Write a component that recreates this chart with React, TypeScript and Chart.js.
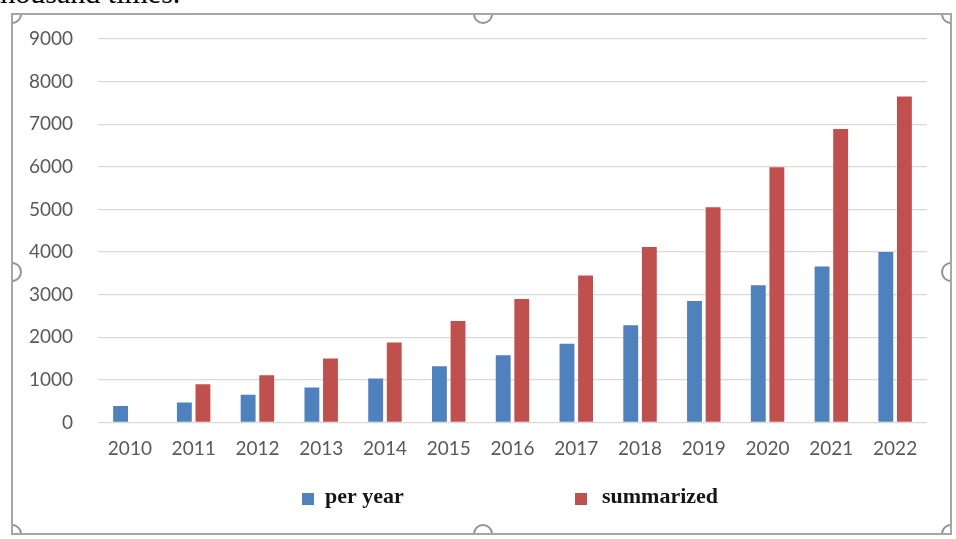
import React, { useEffect, useRef } from 'react';
import { Chart, registerables } from 'chart.js';

Chart.register(...registerables);

const years = ['2010', '2011', '2012', '2013', '2014', '2015', '2016', '2017', '2018', '2019', '2020', '2021', '2022'];
const perYear = [390, 470, 650, 820, 1030, 1320, 1580, 1850, 2280, 2850, 3220, 3660, 4000];
const summarized = [null, 900, 1110, 1500, 1880, 2380, 2900, 3450, 4120, 5050, 5990, 6890, 7650];
const seriesNames = ['per year', 'summarized'];
const seriesColors = ['#4F81BD', '#C0504D'];
const yMax = 9000;
const yStep = 1000;
const captionText = 'thousand times.';

const LEGEND_BOX_X = [302, 575];
const LEGEND_TEXT_X = [325, 602];

const legendPlugin = {
  id: 'sketchLegend',
  afterDraw(chart: any) {
    const ctx = chart.ctx;
    ctx.save();
    chart.data.datasets.forEach((ds: any, i: number) => {
      ctx.fillStyle = ds.backgroundColor;
      ctx.fillRect(LEGEND_BOX_X[i], 493, 12, 12);
      ctx.fillStyle = '#151515';
      ctx.font = 'bold 22px "Liberation Serif", "Times New Roman", serif';
      ctx.textBaseline = 'alphabetic';
      ctx.textAlign = 'left';
      ctx.fillText(ds.label, LEGEND_TEXT_X[i], 503);
    });
    ctx.restore();
  },
};

const handleCenters: [number, number][] = [
  [-1, -1], [470, -1], [938, -1],
  [-1, 257], [938, 257],
  [-1, 519], [470, 519], [938, 519],
];

export default function App() {
  const ref = useRef<HTMLCanvasElement | null>(null);

  useEffect(() => {
    document.body.style.margin = '0';
    const canvas = ref.current;
    if (!canvas) return;
    const tickFont = { family: 'Lato, "Open Sans", sans-serif', size: 19 };
    const chart = new Chart(canvas, {
      type: 'bar',
      data: {
        labels: years,
        datasets: [
          { label: seriesNames[0], data: perYear, backgroundColor: seriesColors[0], categoryPercentage: 0.583, barPercentage: 0.8 },
          { label: seriesNames[1], data: summarized as any, backgroundColor: seriesColors[1], categoryPercentage: 0.583, barPercentage: 0.8 },
        ],
      },
      options: {
        responsive: false,
        animation: false,
        devicePixelRatio: 1,
        layout: { padding: { top: 39, right: 29, left: 0, bottom: 0 } },
        plugins: {
          legend: { display: false },
          tooltip: { enabled: false },
          title: { display: false },
        },
        scales: {
          x: {
            grid: { display: false, drawTicks: false },
            border: { display: false },
            ticks: { font: tickFont, color: '#595959', padding: 15, autoSkip: false, maxRotation: 0 },
            afterFit: (s: any) => { s.height = 116.5; },
          },
          y: {
            min: 0,
            max: yMax,
            grid: { color: '#D9D9D9', lineWidth: 1.3, drawTicks: false },
            border: { display: false },
            ticks: { stepSize: yStep, font: tickFont, color: '#595959', padding: 25, callback: (v: any) => String(v) },
            afterFit: (s: any) => { s.width = 98; },
          },
        },
      },
      plugins: [legendPlugin],
    });
    return () => chart.destroy();
  }, []);

  return (
    <div style={{ position: 'fixed', left: 0, top: 0, width: 956, height: 539, background: '#fff', overflow: 'hidden' }}>
      <div
        style={{
          position: 'absolute', left: -8, top: -21.6, font: '30px "Liberation Serif", "Times New Roman", serif',
          lineHeight: '30px', color: '#000', whiteSpace: 'nowrap',
        }}
      >
        {captionText}
      </div>
      <canvas ref={ref} width={956} height={539} style={{ position: 'absolute', left: 0, top: 0, width: 956, height: 539 }} />
      <div
        style={{
          position: 'absolute', left: 11, top: 13, width: 941, height: 522, boxSizing: 'border-box',
          border: '2px solid #A6A6A6', overflow: 'hidden', pointerEvents: 'none',
        }}
      >
        {handleCenters.map(([cx, cy], i) => (
          <div
            key={i}
            style={{
              position: 'absolute', left: cx - 10, top: cy - 10, width: 20, height: 20, boxSizing: 'border-box',
              borderRadius: '50%', border: '2px solid #939393', background: '#fff',
            }}
          />
        ))}
      </div>
    </div>
  );
}
